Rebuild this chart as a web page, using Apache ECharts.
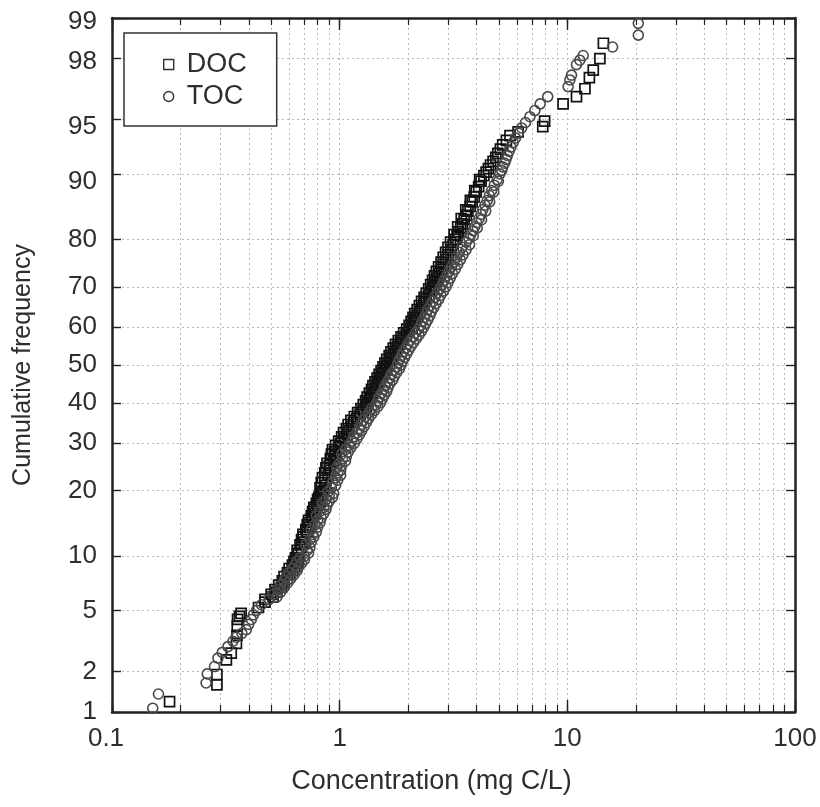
<!DOCTYPE html>
<html>
<head>
<meta charset="utf-8">
<script src="https://cdn.jsdelivr.net/npm/echarts@6/dist/echarts.min.js"></script>
<style>html,body{margin:0;padding:0;background:#fff;}#c{width:820px;height:807px;}</style>
</head>
<body>
<div id="c"></div>
<script>
// ---- tick definitions ----
const xDecades = [0.1, 1, 10, 100];
const xMinorMult = [2, 3, 4, 5, 6, 7, 8, 9];
const yTicks = [1, 2, 5, 10, 20, 30, 40, 50, 60, 70, 80, 90, 95, 98, 99];

// ---- DOC (squares): cumulative frequency (%) and concentration (mg C/L) ----
const docPct = [
  1.2, 1.6, 1.9, 2.4, 2.67, 3.1, 3.5, 4.0, 4.4, 4.6, 4.8,
  5.2, 5.6, 5.8, 6.0, 6.2, 6.4, 6.6, 6.8, 7.0, 7.2, 7.4, 7.6, 7.8, 8.0, 8.2, 8.4, 8.6, 8.8, 9.0, 9.2, 9.4, 9.6, 9.8,
  10.35, 10.7, 11.05, 11.4, 11.75, 12.1, 12.45, 12.8, 13.15, 13.5, 13.85, 14.2, 14.55, 14.9,
  15.25, 15.6, 15.95, 16.3, 16.65, 17.0, 17.35, 17.7, 18.05, 18.4, 18.75, 19.1, 19.45, 19.8,
  20, 20.5, 21, 21.5, 22, 22.5, 23, 23.5, 24, 24.5, 25, 25.5, 26, 26.5, 27, 27.5, 28, 28.5, 29, 29.5,
  30, 30.5, 31, 31.5, 32, 32.5, 33, 33.5, 34, 34.5, 35, 35.5, 36, 36.5, 37, 37.5, 38, 38.5, 39, 39.5,
  40, 40.5, 41, 41.5, 42, 42.5, 43, 43.5, 44, 44.5, 45, 45.5, 46, 46.5, 47, 47.5, 48, 48.5, 49, 49.5,
  50, 50.5, 51, 51.5, 52, 52.5, 53, 53.5, 54, 54.5, 55, 55.5, 56, 56.5, 57, 57.5, 58, 58.5, 59, 59.5,
  60, 60.5, 61, 61.5, 62, 62.5, 63, 63.5, 64, 64.5, 65, 65.5, 66, 66.5, 67, 67.5, 68, 68.5, 69, 69.5,
  70, 70.5, 71, 71.5, 72, 72.5, 73, 73.5, 74, 74.5, 75, 75.5, 76, 76.5, 77, 77.5, 78, 78.5, 79, 79.5,
  80, 80.7, 80.9, 81.4, 82.1, 82.3, 82.8, 83.5, 83.7, 84.2, 84.9, 85.1, 85.6, 86.3, 86.5, 87, 87.7, 87.9, 88.4, 89.1, 89.3, 89.8,
  90.2, 90.6, 91, 91.4, 91.8, 92.2, 92.6, 93, 93.4, 93.8, 94.1,
  94.5, 94.9, 96, 96.4, 96.8, 97.3, 97.6, 98, 98.45
];
const docConc = [
  0.179, 0.289, 0.289, 0.318, 0.334, 0.352, 0.354, 0.355, 0.356, 0.363, 0.369,
  0.44, 0.47, 0.47, 0.51, 0.50, 0.53, 0.52, 0.555, 0.54, 0.57, 0.56, 0.59, 0.57, 0.605, 0.59, 0.62, 0.60, 0.635, 0.62, 0.65, 0.63, 0.66, 0.64,
  0.66, 0.65, 0.68, 0.67, 0.70, 0.68, 0.69, 0.69, 0.72, 0.71, 0.74, 0.72, 0.73, 0.73,
  0.76, 0.75, 0.78, 0.76, 0.77, 0.77, 0.80, 0.79, 0.82, 0.80, 0.81, 0.82, 0.84, 0.83,
  0.85, 0.82, 0.87, 0.83, 0.86, 0.84, 0.89, 0.86, 0.91, 0.87, 0.90, 0.88, 0.94, 0.91, 0.96, 0.92, 0.95, 0.93, 0.99, 0.96,
  1.01, 0.99, 1.05, 1.02, 1.08, 1.04, 1.10, 1.07, 1.13, 1.09, 1.15, 1.12, 1.19, 1.16, 1.23, 1.20, 1.27, 1.24, 1.31, 1.27,
  1.33, 1.30, 1.36, 1.32, 1.38, 1.35, 1.42, 1.38, 1.45, 1.40, 1.47, 1.43, 1.50, 1.46, 1.53, 1.49, 1.56, 1.52, 1.60, 1.55,
  1.62, 1.58, 1.66, 1.61, 1.69, 1.65, 1.73, 1.68, 1.76, 1.72, 1.80, 1.76, 1.85, 1.81, 1.90, 1.86, 1.96, 1.91, 2.02, 1.97,
  2.08, 2.02, 2.12, 2.06, 2.16, 2.10, 2.20, 2.14, 2.25, 2.19, 2.30, 2.24, 2.35, 2.29, 2.40, 2.35, 2.47, 2.40, 2.53, 2.46,
  2.58, 2.51, 2.63, 2.56, 2.68, 2.61, 2.74, 2.66, 2.80, 2.72, 2.86, 2.79, 2.93, 2.85, 3.00, 2.92, 3.08, 2.99, 3.15, 3.07,
  3.22, 3.28, 3.18, 3.33, 3.40, 3.30, 3.46, 3.52, 3.42, 3.60, 3.66, 3.58, 3.74, 3.82, 3.75, 3.90, 3.98, 3.92, 4.08, 4.18, 4.12, 4.30,
  4.40, 4.50, 4.60, 4.72, 4.85, 4.95, 5.08, 5.20, 5.40, 5.60, 6.08,
  7.8, 7.95, 9.58, 10.97, 11.95, 12.5, 13.0, 13.9, 14.4
];

// ---- TOC (circles) ----
const tocPct = [
  1.07, 1.37, 1.65, 1.92, 2.16, 2.47, 2.7, 2.95, 3.2, 3.4, 3.6, 3.8, 4.1, 4.4, 4.7, 5.0,
  5.4, 5.8, 6.0, 6.2, 6.4, 6.6, 6.8, 7.0, 7.2, 7.4, 7.6, 7.8, 8.0, 8.2, 8.4, 8.6, 8.8, 9.0, 9.2, 9.4, 9.6, 9.8,
  10.0, 10.35, 10.7, 11.05, 11.4, 11.75, 12.1, 12.45, 12.8, 13.15, 13.5, 13.85, 14.2, 14.55, 14.9,
  15.25, 15.6, 15.95, 16.3, 16.65, 17.0, 17.35, 17.7, 18.05, 18.4, 18.75, 19.1, 19.45, 19.8,
  20.5, 21, 21.5, 22, 22.5, 23, 23.5, 24, 24.5, 25, 25.5, 26, 26.5, 27, 27.5, 28, 28.5, 29, 29.5,
  30, 30.5, 31, 31.5, 32, 32.5, 33, 33.5, 34, 34.5, 35, 35.5, 36, 36.5, 37, 37.5, 38, 38.5, 39, 39.5,
  40, 40.5, 41, 41.5, 42, 42.5, 43, 43.5, 44, 44.5, 45, 45.5, 46, 46.5, 47, 47.5, 48, 48.5, 49, 49.5,
  50, 50.5, 51, 51.5, 52, 52.5, 53, 53.5, 54, 54.5, 55, 55.5, 56, 56.5, 57, 57.5, 58, 58.5, 59, 59.5,
  60, 60.5, 61, 61.5, 62, 62.5, 63, 63.5, 64, 64.5, 65, 65.5, 66, 66.5, 67, 67.5, 68, 68.5, 69, 69.5,
  70, 70.5, 71, 71.5, 72, 72.5, 73, 73.5, 74, 74.5, 75, 75.5, 76, 76.5, 77, 77.5, 78, 78.5, 79, 79.5,
  80.2, 80.7, 80.9, 81.6, 82.1, 82.3, 83.0, 83.5, 83.7, 84.4, 84.9, 85.1, 85.8, 86.3, 86.5, 87.2, 87.7, 87.9, 88.6, 89.1, 89.3, 90.0,
  90.4, 90.8, 91.2, 91.6, 92.0, 92.4, 92.8, 93.2, 93.6, 94.0, 94.4, 94.8, 95.2, 95.6, 96.0, 96.4,
  96.9, 97.2, 97.4, 97.8, 97.95, 98.1, 98.35, 98.65, 98.9
];
const tocConc = [
  0.151, 0.160, 0.259, 0.262, 0.282, 0.292, 0.305, 0.323, 0.340, 0.351, 0.372, 0.389, 0.398, 0.409, 0.418, 0.432,
  0.453, 0.49, 0.53, 0.51, 0.55, 0.535, 0.57, 0.55, 0.59, 0.57, 0.61, 0.583, 0.63, 0.60, 0.65, 0.62, 0.66, 0.635, 0.68, 0.65, 0.70, 0.67,
  0.70, 0.73, 0.72, 0.74, 0.71, 0.75, 0.74, 0.77, 0.76, 0.79, 0.75, 0.80, 0.78, 0.82, 0.80,
  0.83, 0.79, 0.85, 0.82, 0.87, 0.85, 0.88, 0.84, 0.90, 0.87, 0.93, 0.90, 0.94, 0.89,
  0.92, 0.96, 0.93, 0.98, 0.96, 1.01, 0.98, 1.01, 0.97, 1.02, 1.00, 1.06, 1.03, 1.07, 1.02, 1.09, 1.06, 1.12, 1.10,
  1.16, 1.13, 1.19, 1.15, 1.22, 1.19, 1.25, 1.22, 1.28, 1.24, 1.31, 1.27, 1.34, 1.30, 1.38, 1.35, 1.42, 1.38, 1.47, 1.44,
  1.51, 1.47, 1.54, 1.49, 1.57, 1.53, 1.61, 1.56, 1.63, 1.58, 1.66, 1.62, 1.71, 1.66, 1.74, 1.68, 1.78, 1.73, 1.83, 1.78,
  1.86, 1.80, 1.89, 1.83, 1.93, 1.87, 1.97, 1.90, 2.01, 1.95, 2.06, 1.99, 2.11, 2.04, 2.17, 2.10, 2.23, 2.15, 2.29, 2.22,
  2.34, 2.27, 2.39, 2.30, 2.44, 2.36, 2.49, 2.40, 2.53, 2.44, 2.59, 2.50, 2.65, 2.56, 2.72, 2.62, 2.78, 2.68, 2.86, 2.76,
  2.93, 2.82, 2.99, 2.88, 3.06, 2.95, 3.13, 3.02, 3.22, 3.10, 3.30, 3.18, 3.39, 3.26, 3.48, 3.35, 3.59, 3.45, 3.72, 3.60,
  3.70, 3.86, 3.76, 3.85, 4.02, 3.92, 4.00, 4.20, 4.10, 4.18, 4.38, 4.25, 4.35, 4.56, 4.45, 4.55, 4.75, 4.65, 4.78, 4.98, 4.92, 5.05,
  5.15, 5.20, 5.30, 5.38, 5.45, 5.55, 5.65, 5.78, 5.92, 6.10, 6.30, 6.55, 6.85, 7.20, 7.60, 8.20,
  10.08, 10.26, 10.43, 10.97, 11.35, 11.74, 15.8, 20.5, 20.5
];

// ---- normal probability (probit) transform used by the y axis ----
function probit(p) {
  const a = [-3.969683028665376e+01, 2.209460984245205e+02, -2.759285104469687e+02, 1.383577518672690e+02, -3.066479806614716e+01, 2.506628277386502e+00];
  const b = [-5.447609879822406e+01, 1.615858368580409e+02, -1.556989798598866e+02, 6.680131188771972e+01, -1.328068155288572e+01];
  const c = [-7.784894002430293e-03, -3.223964580411365e-01, -2.400758277161838e+00, -2.549732539343734e+00, 4.374664141464968e+00, 2.938163982698783e+00];
  const d = [7.784695709041462e-03, 3.224671290700398e-01, 2.445134137142996e+00, 3.754408661907416e+00];
  const plow = 0.02425, phigh = 1 - plow;
  let q, r;
  if (p < plow) {
    q = Math.sqrt(-2 * Math.log(p));
    return (((((c[0]*q+c[1])*q+c[2])*q+c[3])*q+c[4])*q+c[5]) / ((((d[0]*q+d[1])*q+d[2])*q+d[3])*q+1);
  } else if (p <= phigh) {
    q = p - 0.5; r = q * q;
    return (((((a[0]*r+a[1])*r+a[2])*r+a[3])*r+a[4])*r+a[5])*q / (((((b[0]*r+b[1])*r+b[2])*r+b[3])*r+b[4])*r+1);
  } else {
    q = Math.sqrt(-2 * Math.log(1 - p));
    return -(((((c[0]*q+c[1])*q+c[2])*q+c[3])*q+c[4])*q+c[5]) / ((((d[0]*q+d[1])*q+d[2])*q+d[3])*q+1);
  }
}
const yz = v => probit(v / 100);

const xMajorVals = xDecades.map(v => Math.log10(v));
const xAllVals = xMajorVals.slice(0, -1).reduce((acc, lv, i) => {
  acc.push(lv);
  xMinorMult.forEach(m => acc.push(Math.log10(xDecades[i] * m)));
  return acc;
}, []).concat([xMajorVals[xMajorVals.length - 1]]);
const yVals = yTicks.map(yz);

const docData = docPct.map((p, i) => [Math.log10(docConc[i]), yz(p)]);
const tocData = tocPct.map((p, i) => [Math.log10(tocConc[i]), yz(p)]);

const FONT = '"Liberation Sans", Arial, Helvetica, sans-serif';
const AX = '#222';
const LBL = '#2e2e2e';
const gridLine = { show: true, lineStyle: { color: '#b8b8b8', width: 1, type: [2, 3] } };

// small label nudges (style only)
const yLabelShift = { 99: 4, 98: 3, 95: 7, 90: 8 };

function nearestIndex(vals, v) {
  let best = 0, bd = 1e9;
  vals.forEach((m, i) => { const dd = Math.abs(m - v); if (dd < bd) { bd = dd; best = i; } });
  return best;
}
function xLabel(v) {
  const i = nearestIndex(xMajorVals, v);
  return i === 0 ? '{l|' + xDecades[i] + '}' : String(xDecades[i]);
}
function yLabel(v) {
  const t = yTicks[nearestIndex(yVals, v)];
  const s = yLabelShift[t];
  return s ? '{s' + s + '|' + t + '}' : String(t);
}
const yRich = {};
Object.keys(yLabelShift).forEach(k => {
  const s = yLabelShift[k];
  yRich['s' + s] = { fontSize: 26, color: LBL, fontFamily: FONT, padding: [2 * s, 0, 0, 0] };
});

const xMin = xMajorVals[0], xMax = xMajorVals[xMajorVals.length - 1];
const yMin = yz(yTicks[0]), yMax = yz(yTicks[yTicks.length - 1]);

const chart = echarts.init(document.getElementById('c'), null, { renderer: 'canvas' });
chart.setOption({
  animation: false,
  backgroundColor: '#fff',
  textStyle: { fontFamily: FONT },
  grid: { left: 112, right: 25, top: 18, bottom: 95, containLabel: false, outerBoundsMode: 'none' },
  legend: {
    left: 124, top: 33,
    orient: 'vertical',
    backgroundColor: '#fff',
    borderColor: '#333', borderWidth: 1.5,
    padding: [18, 30, 16, 39],
    itemGap: 5,
    itemWidth: 10, itemHeight: 10,
    itemStyle: { color: '#fff', borderColor: '#333', borderWidth: 1.4 },
    textStyle: { fontSize: 27, color: LBL, fontFamily: FONT, lineHeight: 27, padding: [0, 0, 0, 8] },
    data: ['DOC', 'TOC']
  },
  xAxis: [
    {
      type: 'value', position: 'bottom', min: xMin, max: xMax,
      name: 'Concentration (mg C/L)', nameLocation: 'middle', nameGap: 56,
      nameTextStyle: { fontSize: 27, color: LBL, fontFamily: FONT, padding: [0, 44, 0, 0] },
      axisLine: { show: true, onZero: false, lineStyle: { color: AX, width: 2.5 } },
      axisTick: { show: true, inside: true, length: 7, customValues: xAllVals, lineStyle: { color: AX, width: 1.2 } },
      axisLabel: {
        show: true, customValues: xMajorVals, formatter: xLabel, margin: 14, fontSize: 26, color: LBL, fontFamily: FONT,
        rich: { l: { fontSize: 26, color: LBL, fontFamily: FONT, padding: [0, 12, 0, 0] } }
      },
      splitLine: gridLine,
      minorTick: { show: false }, minorSplitLine: { show: false }
    },
    {
      type: 'value', position: 'bottom', min: xMin, max: xMax,
      axisLine: { show: false, onZero: false },
      axisTick: { show: true, inside: true, length: 12, customValues: xMajorVals, lineStyle: { color: AX, width: 1.4 } },
      axisLabel: { show: false }, splitLine: { show: false }
    },
    {
      type: 'value', position: 'top', min: xMin, max: xMax,
      axisLine: { show: true, onZero: false, lineStyle: { color: AX, width: 2.5 } },
      axisTick: { show: true, inside: true, length: 7, customValues: xAllVals, lineStyle: { color: AX, width: 1.2 } },
      axisLabel: { show: false }, splitLine: { show: false }
    },
    {
      type: 'value', position: 'top', min: xMin, max: xMax,
      axisLine: { show: false, onZero: false },
      axisTick: { show: true, inside: true, length: 12, customValues: xMajorVals, lineStyle: { color: AX, width: 1.4 } },
      axisLabel: { show: false }, splitLine: { show: false }
    }
  ],
  yAxis: [
    {
      type: 'value', position: 'left', min: yMin, max: yMax,
      name: 'Cumulative frequency', nameLocation: 'middle', nameGap: 76,
      nameTextStyle: { fontSize: 25, color: LBL, fontFamily: FONT },
      axisLine: { show: true, onZero: false, lineStyle: { color: AX, width: 2.5 } },
      axisTick: { show: true, inside: true, length: 9, customValues: yVals, lineStyle: { color: AX, width: 1.4 } },
      axisLabel: { show: true, customValues: yVals, formatter: yLabel, margin: 15, fontSize: 26, color: LBL, fontFamily: FONT, rich: yRich },
      splitLine: gridLine
    },
    {
      type: 'value', position: 'right', min: yMin, max: yMax,
      axisLine: { show: true, onZero: false, lineStyle: { color: AX, width: 2.5 } },
      axisTick: { show: true, inside: true, length: 9, customValues: yVals, lineStyle: { color: AX, width: 1.4 } },
      axisLabel: { show: false }, splitLine: { show: false }
    }
  ],
  series: [
    {
      name: 'DOC', type: 'scatter', xAxisIndex: 0, yAxisIndex: 0,
      symbol: 'rect', symbolSize: 10,
      itemStyle: { color: 'rgba(255,255,255,0)', borderColor: '#111', borderWidth: 1.7, opacity: 1 },
      data: docData, z: 3
    },
    {
      name: 'TOC', type: 'scatter', xAxisIndex: 0, yAxisIndex: 0,
      symbol: 'circle', symbolSize: 10,
      itemStyle: { color: 'rgba(255,255,255,0)', borderColor: '#484848', borderWidth: 1.6, opacity: 1 },
      data: tocData, z: 4
    }
  ]
});
</script>
</body>
</html>
